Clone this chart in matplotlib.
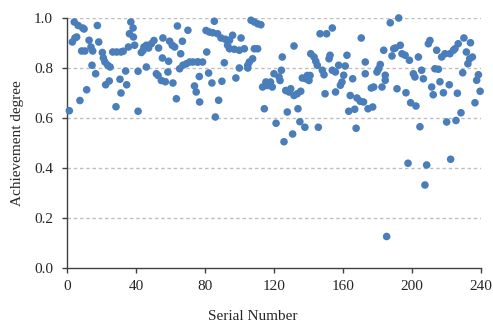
import matplotlib
matplotlib.use("Agg")
import matplotlib.pyplot as plt
from matplotlib.ticker import FormatStrFormatter

serial = [
    1.35, 3.1, 4.2, 4.6, 5.6, 6.5, 7.5, 8.5, 9.1, 9.9, 10.4, 11.4, 12.8, 13.9, 14.5, 14.9,
    16.6, 17.6, 18.4, 20.5, 21.1, 22.0, 22.4, 23.6, 24.5, 25.0, 26.5, 28.4, 28.8, 30.7,
    31.3, 31.3, 32.6, 34.0, 34.6, 35.6, 36.2, 37.0, 38.3, 38.5, 39.2, 41.2, 41.2,
    43.1, 44.1, 44.6, 46.0, 46.0, 47.3, 48.9, 50.4, 51.8, 52.8, 53.1, 54.7, 55.3, 55.6,
    57.0, 58.5, 58.9, 59.5, 61.0, 61.4, 62.4, 63.4, 64.0, 65.3, 65.9, 66.9, 67.2, 69.2,
    70.1, 71.1, 73.0, 73.9, 74.9, 75.9, 76.9, 75.7, 76.7, 78.6,
    80.6, 81.0, 82.1, 82.5, 84.0, 84.5, 85.4, 86.0, 87.3, 87.9, 89.3, 89.8, 91.2, 91.8,
    93.1, 94.2, 94.2, 96.0, 97.0, 97.9, 99.9, 99.9, 100.9, 102.8, 104.8, 104.8, 105.7,
    106.7, 107.6, 108.6, 108.6, 110.5, 110.5, 112.4, 113.4, 114.4, 115.3,
    116.1, 118.0, 119.0, 120.0, 121.2, 122.9, 123.5, 124.3, 124.8, 125.8, 126.8, 127.7,
    128.7, 129.7, 130.8, 131.6, 131.6, 133.5, 133.9, 135.0, 135.5, 136.4, 137.9, 138.4,
    139.3, 140.3, 140.9, 141.3, 143.2, 144.2, 145.1, 145.7, 146.7, 148.0, 149.0, 149.6,
    150.5, 151.9, 152.5, 153.8, 153.8, 155.6, 155.7,
    157.5, 158.5, 159.4, 160.4, 161.3, 162.3, 163.3, 164.2, 165.6, 166.8, 167.6, 168.1,
    170.0, 170.6, 171.9, 172.9, 172.9, 174.5, 176.4, 177.2, 177.8, 179.7, 180.7, 181.6,
    182.6, 183.6, 184.5, 184.5, 185.3, 187.4, 188.4, 189.4, 190.3, 191.3, 192.3, 193.2,
    194.2, 196.0, 196.5, 197.7, 198.5, 199.2, 200.8, 201.7, 202.3, 203.7, 204.6, 205.6,
    206.6, 207.5, 208.5, 209.5, 210.4, 211.4, 212.3, 213.3, 214.3, 215.3, 216.2, 217.2,
    218.2, 219.1, 220.1, 221.6, 222.0, 222.4, 224.0, 224.9, 225.5, 226.3, 226.8, 228.4,
    229.4, 230.1, 231.5, 232.4, 233.4, 233.9, 235.0, 236.5, 237.5, 238.5, 239.5,
]

achievement = [
    0.629, 0.904, 0.984, 0.920, 0.924, 0.970, 0.670, 0.868, 0.960, 0.956, 0.868, 0.713, 0.911, 0.884, 0.811, 0.868,
    0.777, 0.970, 0.904, 0.862, 0.840, 0.824, 0.733, 0.811, 0.748, 0.804, 0.864, 0.645, 0.864, 0.755,
    0.864, 0.700, 0.867, 0.788, 0.733, 0.884, 0.937, 0.984, 0.960, 0.924, 0.891, 0.787, 0.627,
    0.862, 0.870, 0.884, 0.891, 0.804, 0.880, 0.897, 0.910, 0.777, 0.770, 0.880, 0.750, 0.840, 0.920,
    0.745, 0.784, 0.827, 0.907, 0.891, 0.740, 0.884, 0.677, 0.968, 0.797, 0.857, 0.907, 0.811, 0.817,
    0.951, 0.824, 0.824, 0.728, 0.704, 0.824, 0.664, 0.824, 0.766, 0.824,
    0.950, 0.864, 0.780, 0.944, 0.740, 0.941, 0.987, 0.604, 0.937, 0.671, 0.920, 0.747, 0.821, 0.915,
    0.891, 0.911, 0.877, 0.931, 0.875, 0.760, 0.871, 0.800, 0.920, 0.877, 0.811, 0.800, 0.824,
    0.991, 0.837, 0.984, 0.877, 0.977, 0.877, 0.973, 0.724, 0.637, 0.744,
    0.730, 0.744, 0.724, 0.777, 0.579, 0.764, 0.750, 0.791, 0.844, 0.505, 0.710, 0.624,
    0.704, 0.717, 0.536, 0.690, 0.888, 0.697, 0.637, 0.585, 0.707, 0.760, 0.563, 0.757,
    0.770, 0.750, 0.770, 0.857, 0.844, 0.827, 0.811, 0.563, 0.937, 0.791, 0.773, 0.697,
    0.937, 0.837, 0.851, 0.960, 0.791, 0.784, 0.704,
    0.811, 0.731, 0.744, 0.771, 0.808, 0.851, 0.627, 0.690, 0.757, 0.635, 0.559, 0.680,
    0.667, 0.920, 0.664, 0.824, 0.777, 0.637, 0.720, 0.644, 0.724, 0.784, 0.797, 0.814,
    0.724, 0.871, 0.771, 0.751, 0.126, 0.981, 0.848, 0.877, 0.880, 0.717, 1.000, 0.891,
    0.857, 0.851, 0.701, 0.419, 0.831, 0.661, 0.777, 0.764, 0.648, 0.844, 0.565, 0.791,
    0.757, 0.332, 0.412, 0.897, 0.910, 0.724, 0.693, 0.797, 0.871, 0.795, 0.745, 0.844,
    0.701, 0.857, 0.584, 0.733, 0.857, 0.435, 0.871, 0.877, 0.590, 0.699, 0.897, 0.621,
    0.781, 0.920, 0.864, 0.817, 0.837, 0.901, 0.844, 0.661, 0.751, 0.773, 0.707,
]

x_ticks = [0, 40, 80, 120, 160, 200, 240]
y_ticks = [0.0, 0.2, 0.4, 0.6, 0.8, 1.0]

plt.rcParams['font.family'] = ['Liberation Serif', 'DejaVu Serif']

fig = plt.figure(figsize=(4.93, 3.25), dpi=100)
ax = fig.add_axes([67/493, 57/325, 414/493, 250/325])

ax.scatter(serial, achievement, s=30, color='#4A7EBB', edgecolors='none', zorder=3, clip_on=False)

ax.set_xlim(0, 240)
ax.set_ylim(0, 1.0)
ax.set_xticks(x_ticks)
ax.set_yticks(y_ticks)
ax.yaxis.set_major_formatter(FormatStrFormatter('%.1f'))

for yv in y_ticks[1:]:
    ax.axhline(yv, color='#BFBFBF', linestyle=(0, (2.5, 2)), linewidth=1.0, zorder=1)

for side in ['top', 'right']:
    ax.spines[side].set_visible(False)
for side in ['left', 'bottom']:
    ax.spines[side].set_color('#404040')
    ax.spines[side].set_linewidth(1.0)

ax.tick_params(axis='both', direction='out', length=3.5, width=1, color='#404040',
               labelsize=11, labelcolor='#262626')
ax.tick_params(axis='x', pad=5.5)
ax.tick_params(axis='y', pad=6.5)
ax.set_xlabel('Serial Number', fontsize=11, color='#262626', va='center')
ax.xaxis.set_label_coords(0.448, -0.192)
ax.set_ylabel('Achievement degree', fontsize=11, color='#262626', va='center')
ax.yaxis.set_label_coords(-0.12, 0.5)

fig.savefig('out.png', dpi=100)
